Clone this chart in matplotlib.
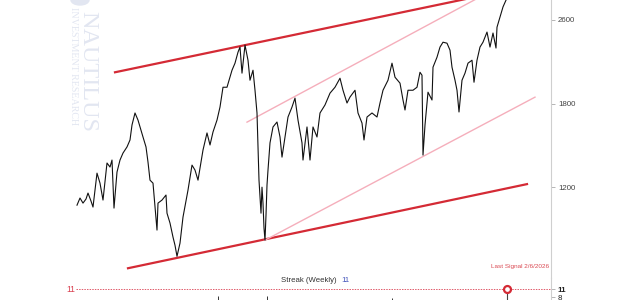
import matplotlib.pyplot as plt
import numpy as np
from matplotlib.patches import Ellipse

# weekly closes
weeks = [0, 3, 6, 9, 11, 14, 16, 20, 23, 26,
         30, 33, 35, 37, 40, 43, 46, 50, 53, 55,
         58, 61, 63, 66, 69, 71, 73, 76, 80, 81,
         85, 89, 90, 93, 96, 98, 100, 103, 106, 111,
         115, 118, 121, 126, 130, 133, 136, 140, 143, 146,
         150, 155, 158, 161, 163, 165, 168, 171, 173, 176,
         178, 180, 181, 182, 184, 185, 186, 187, 188, 189,
         190, 191, 193, 196, 200, 203, 205, 208, 211, 215,
         218, 221, 225, 226, 230, 233, 236, 240, 243, 248,
         253, 258, 263, 266, 270, 273, 278, 281, 285, 287,
         290, 295, 300, 303, 306, 311, 315, 318, 323, 326,
         328, 331, 336, 340, 343, 345, 346, 348, 351, 355,
         356, 360, 363, 366, 370, 373, 375, 378, 380, 382,
         385, 388, 391, 395, 397, 400, 403, 406, 410, 413,
         416, 419, 420, 423, 426, 429, 431]
price = [1094, 1136, 1106, 1130, 1166, 1118, 1083, 1291, 1227, 1124,
         1358, 1331, 1378, 1077, 1298, 1378, 1426, 1469, 1519, 1631,
         1725, 1669, 1616, 1541, 1469, 1364, 1246, 1227, 955, 1106,
         1124, 1154, 1048, 993, 918, 876, 821, 887, 1026, 1184,
         1344, 1311, 1246, 1447, 1571, 1483, 1578, 1669, 1773, 1940,
         1940, 2093, 2159, 2265, 2316, 2066, 2336, 2187, 2002, 2093,
         1914, 1725, 1469, 1246, 1048, 1202, 1106, 966, 902, 1037,
         1215, 1311, 1498, 1616, 1654, 1541, 1398, 1541, 1693, 1773,
         1847, 1669, 1498, 1378, 1616, 1378, 1616, 1541, 1725, 1790,
         1889, 1940, 2020, 1914, 1806, 1856, 1914, 1725, 1646, 1519,
         1693, 1725, 1693, 1806, 1914, 2002, 2159, 2029, 1976, 1831,
         1749, 1914, 1914, 1940, 2074, 2047, 1412, 1631, 1897, 1831,
         2121, 2216, 2316, 2365, 2355, 2285, 2121, 2002, 1914, 1733,
         2002, 2066, 2159, 2187, 1984, 2187, 2316, 2365, 2470, 2316,
         2460, 2306, 2522, 2634, 2747, 2827, 2875]

# channel lines (start week, end week) / (start price, end price)
outer_top_wk = [38, 408]
outer_top_px = [2074, 2887]
outer_bot_wk = [51, 450]
outer_bot_px = [764, 1221]
inner_top_wk = [170, 401]
inner_top_px = [1653, 2851]
inner_bot_wk = [188, 458]
inner_bot_px = [902, 1855]

yticks = [1200, 1800, 2600]

# streak panel
streak_wk = [141, 190, 315]
streak_val = [8.3, 8.3, 7.6]
signal_wk = 430
signal_val = 11

RED = '#d42a35'
PINK = '#f5aebb'
GREY = '#cfcfcf'

plt.rcParams['font.family'] = ['Liberation Sans', 'DejaVu Sans']


def fwd(p):
    return np.log10(np.maximum(np.asarray(p, dtype=float) + 600, 1e-9))


def inv(u):
    return 10 ** np.asarray(u, dtype=float) - 600


def main():
    fig = plt.figure(figsize=(6.4, 3.0), dpi=100)
    W, H = 640.0, 300.0
    ax = fig.add_axes([0, 1 - 278 / H, 551 / W, 278 / H])
    ax.set_yscale('function', functions=(fwd, inv))

    ax.plot(weeks, price, color='#111111', lw=0.8, zorder=3)
    ax.plot(outer_top_wk, outer_top_px, color=RED, lw=1.6, zorder=2)
    ax.plot(outer_bot_wk, outer_bot_px, color=RED, lw=1.6, zorder=2)
    ax.plot(inner_top_wk, inner_top_px, color=PINK, lw=1.0, zorder=2)
    ax.plot(inner_bot_wk, inner_bot_px, color=PINK, lw=1.0, zorder=2)

    u_top = np.log10(3200) + 20 / 670.3
    u_bot = u_top - 278 / 670.3
    ax.set_ylim(inv(u_bot), inv(u_top))
    ax.set_xlim(-77, 474)

    for s in ['top', 'left', 'bottom']:
        ax.spines[s].set_visible(False)
    ax.spines['right'].set_color(GREY)
    ax.spines['right'].set_linewidth(0.8)
    ax.yaxis.tick_right()
    ax.set_yticks(yticks)
    ax.set_yticklabels([str(t) for t in yticks])
    ax.yaxis.set_minor_locator(plt.NullLocator())
    ax.tick_params(axis='y', length=3, width=0.6, color='#aaaaaa',
                   labelsize=5.7, labelcolor='#444444', pad=2)
    ax.set_xticks([])

    ax.text(472, inv(u_bot + 11 / 670.3), 'Last Signal 2/6/2026', color=RED,
            fontsize=4.6, ha='right', va='center', alpha=0.85)

    # watermark
    wm = '#e2e6f1'
    fig.text(88 / W, 1 - 11 / H, 'NAUTILUS', rotation=270, fontsize=17.5,
             family='Liberation Serif', color=wm, ha='center', va='top')
    fig.text(73 / W, 1 - 7 / H, 'INVESTMENT RESEARCH', rotation=270,
             fontsize=7.2, family='Liberation Serif', color=wm,
             ha='center', va='top')
    fig.patches.append(Ellipse((80 / W, 1 - 0 / H), 18 / W, 10 / H,
                               transform=fig.transFigure, color=wm))

    # streak panel
    bx = fig.add_axes([0, 0, 551 / W, 22 / H])
    bx.set_xlim(-77, 474)
    bx.set_ylim(6.875, 15.125)
    bx.axhline(11, xmin=76 / 551, color='#e05a6a', lw=0.7,
               ls=(0, (1.5, 1.2)))
    bx.vlines(streak_wk, 0, streak_val, color='#333333', lw=0.7)
    bx.vlines([signal_wk], 0, [signal_val], color='#444444', lw=0.8)
    bx.plot([signal_wk], [signal_val], 'o', ms=5, mfc='white', mec=RED,
            mew=1.6, zorder=5)
    for s in ['top', 'left', 'bottom']:
        bx.spines[s].set_visible(False)
    bx.spines['right'].set_color(GREY)
    bx.spines['right'].set_linewidth(0.8)
    bx.yaxis.tick_right()
    bx.set_yticks([8, 11])
    bx.set_yticklabels(['8', '11'])
    bx.tick_params(axis='y', length=3, width=0.6, color='#aaaaaa',
                   labelsize=5.7, labelcolor='#222222', pad=2)
    bx.get_yticklabels()[1].set_fontweight('bold')
    bx.set_xticks([])
    bx.patch.set_alpha(0)

    fig.text(71 / W, 1 - 289 / H, '11', color='#d94050', fontsize=6.2,
             ha='center', va='center')
    fig.text(337 / W, 1 - 281 / H, 'Streak (Weekly)', color='#333333',
             fontsize=5.6, ha='right', va='center')
    fig.text(341 / W, 1 - 281 / H, '11', color='#4455bb', fontsize=5.6,
             ha='left', va='center')

    fig.savefig('out.png', dpi=100)


if __name__ == '__main__':
    main()
